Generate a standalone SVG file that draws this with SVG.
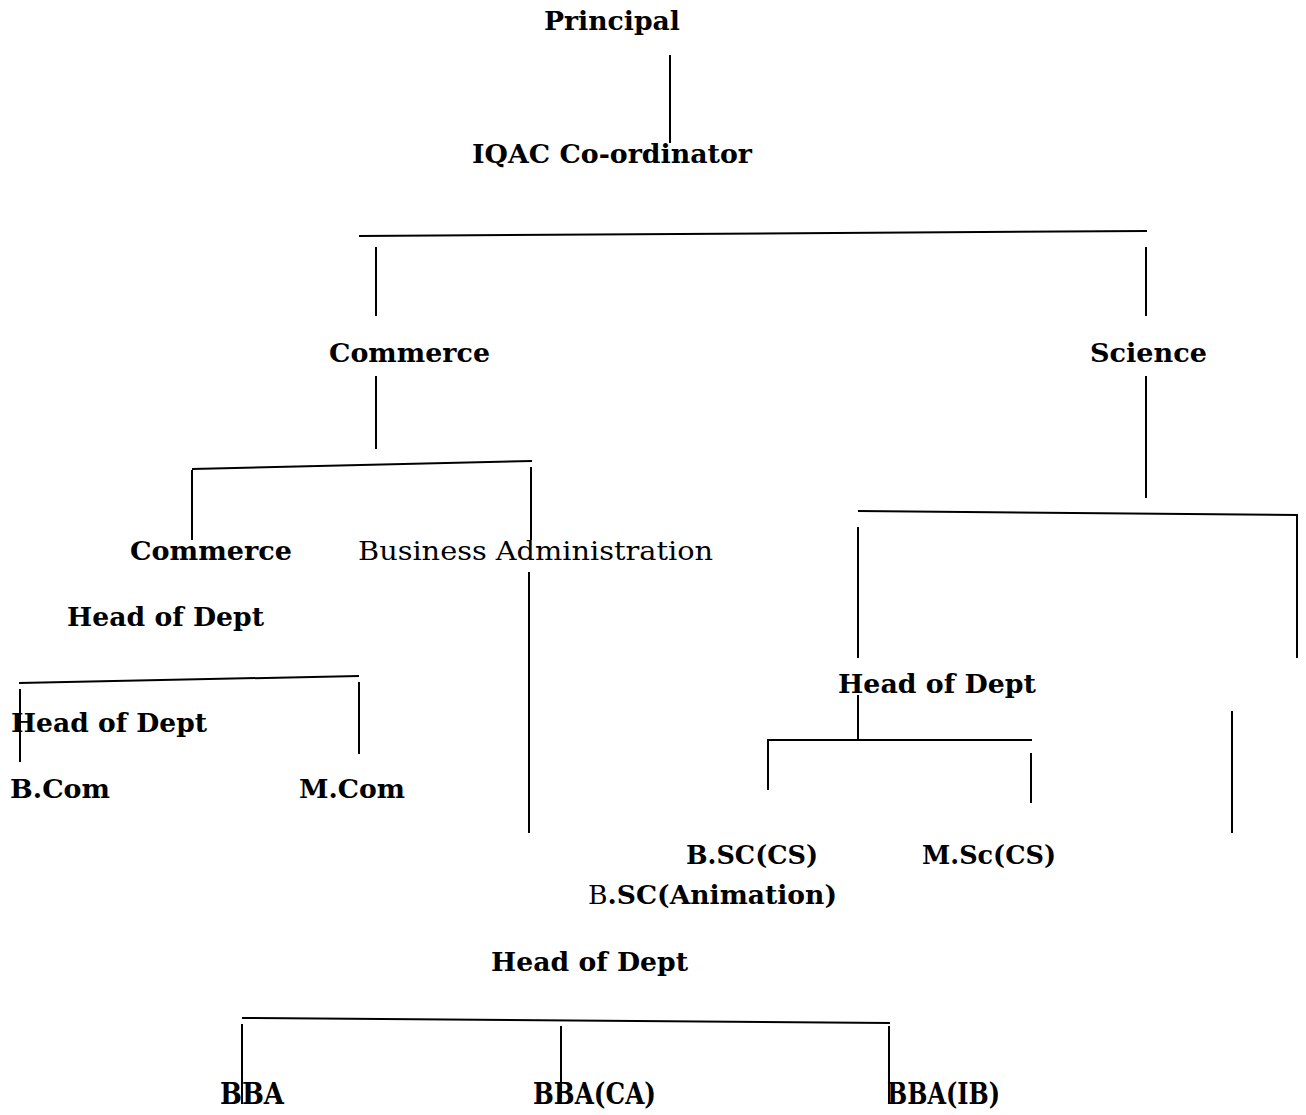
<svg xmlns="http://www.w3.org/2000/svg" width="1306" height="1115" viewBox="0 0 1306 1115">
<style>
.t{font-family:"DejaVu Serif","Liberation Serif",serif;font-size:26px;font-weight:bold;fill:#000}
.r{font-weight:normal}
.n{font-size:30px}
.c line{stroke:#000;stroke-width:2;fill:none}
</style>
<rect width="1306" height="1115" fill="#fff"/>
<g class="c" id="connectors">
<line x1="670" y1="55" x2="670" y2="143"/>
<line x1="359" y1="236" x2="1147" y2="231"/>
<line x1="376" y1="247" x2="376" y2="316"/>
<line x1="1146" y1="247" x2="1146" y2="316"/>
<line x1="376" y1="376" x2="376" y2="449"/>
<line x1="192" y1="469" x2="532" y2="461"/>
<line x1="192" y1="470" x2="192" y2="540"/>
<line x1="531" y1="467" x2="531" y2="540"/>
<line x1="529" y1="572" x2="529" y2="833"/>
<line x1="19" y1="683" x2="359" y2="676"/>
<line x1="20" y1="689" x2="20" y2="762"/>
<line x1="359" y1="682" x2="359" y2="754"/>
<line x1="1146" y1="376" x2="1146" y2="498"/>
<line x1="858" y1="511" x2="1298" y2="515"/>
<line x1="858" y1="527" x2="858" y2="658"/>
<line x1="1297" y1="515" x2="1297" y2="658"/>
<line x1="858" y1="695" x2="858" y2="740"/>
<line x1="767" y1="740" x2="1032" y2="740"/>
<line x1="768" y1="740" x2="768" y2="790"/>
<line x1="1031" y1="753" x2="1031" y2="803"/>
<line x1="1232" y1="711" x2="1232" y2="833"/>
<line x1="242" y1="1018" x2="890" y2="1023"/>
<line x1="242" y1="1024" x2="242" y2="1104"/>
<line x1="561" y1="1026" x2="561" y2="1098"/>
<line x1="889" y1="1026" x2="889" y2="1104"/>
</g>
<g id="principal"><text class="t" x="544" y="30" textLength="136" lengthAdjust="spacingAndGlyphs">Principal</text></g>
<g id="iqac"><text class="t" x="472" y="163" textLength="280" lengthAdjust="spacingAndGlyphs">IQAC Co-ordinator</text></g>
<g id="commerce"><text class="t" x="329" y="362" textLength="161" lengthAdjust="spacingAndGlyphs">Commerce</text></g>
<g id="science"><text class="t" x="1090" y="362" textLength="117" lengthAdjust="spacingAndGlyphs">Science</text></g>
<g id="commerce-dept"><text class="t" x="130" y="560" textLength="162" lengthAdjust="spacingAndGlyphs">Commerce</text></g>
<g id="business-admin"><text class="t r" x="358" y="560" textLength="355" lengthAdjust="spacingAndGlyphs">Business Administration</text></g>
<g id="hod-commerce1"><text class="t" x="67" y="626" textLength="197" lengthAdjust="spacingAndGlyphs">Head of Dept</text></g>
<g id="hod-commerce2"><text class="t" x="11" y="732" textLength="196" lengthAdjust="spacingAndGlyphs">Head of Dept</text></g>
<g id="bcom"><text class="t" x="10" y="798" textLength="100" lengthAdjust="spacingAndGlyphs">B.Com</text></g>
<g id="mcom"><text class="t" x="299" y="798" textLength="106" lengthAdjust="spacingAndGlyphs">M.Com</text></g>
<g id="hod-science"><text class="t" x="838" y="693" textLength="198" lengthAdjust="spacingAndGlyphs">Head of Dept</text></g>
<g id="bsc-cs"><text class="t" x="686" y="864" textLength="132" lengthAdjust="spacingAndGlyphs">B.SC(CS)</text></g>
<g id="msc-cs"><text class="t" x="922" y="864" textLength="134" lengthAdjust="spacingAndGlyphs">M.Sc(CS)</text></g>
<g id="bsc-anim"><text class="t" x="588" y="904" textLength="249" lengthAdjust="spacingAndGlyphs"><tspan class="r">B</tspan>.SC(Animation)</text></g>
<g id="hod-ba"><text class="t" x="491" y="971" textLength="197" lengthAdjust="spacingAndGlyphs">Head of Dept</text></g>
<g id="bba"><text class="t n" x="220" y="1104" textLength="64" lengthAdjust="spacingAndGlyphs">BBA</text></g>
<g id="bba-ca"><text class="t n" x="533" y="1104" textLength="123" lengthAdjust="spacingAndGlyphs">BBA(CA)</text></g>
<g id="bba-ib"><text class="t n" x="887" y="1104" textLength="113" lengthAdjust="spacingAndGlyphs">BBA(IB)</text></g>
</svg>
